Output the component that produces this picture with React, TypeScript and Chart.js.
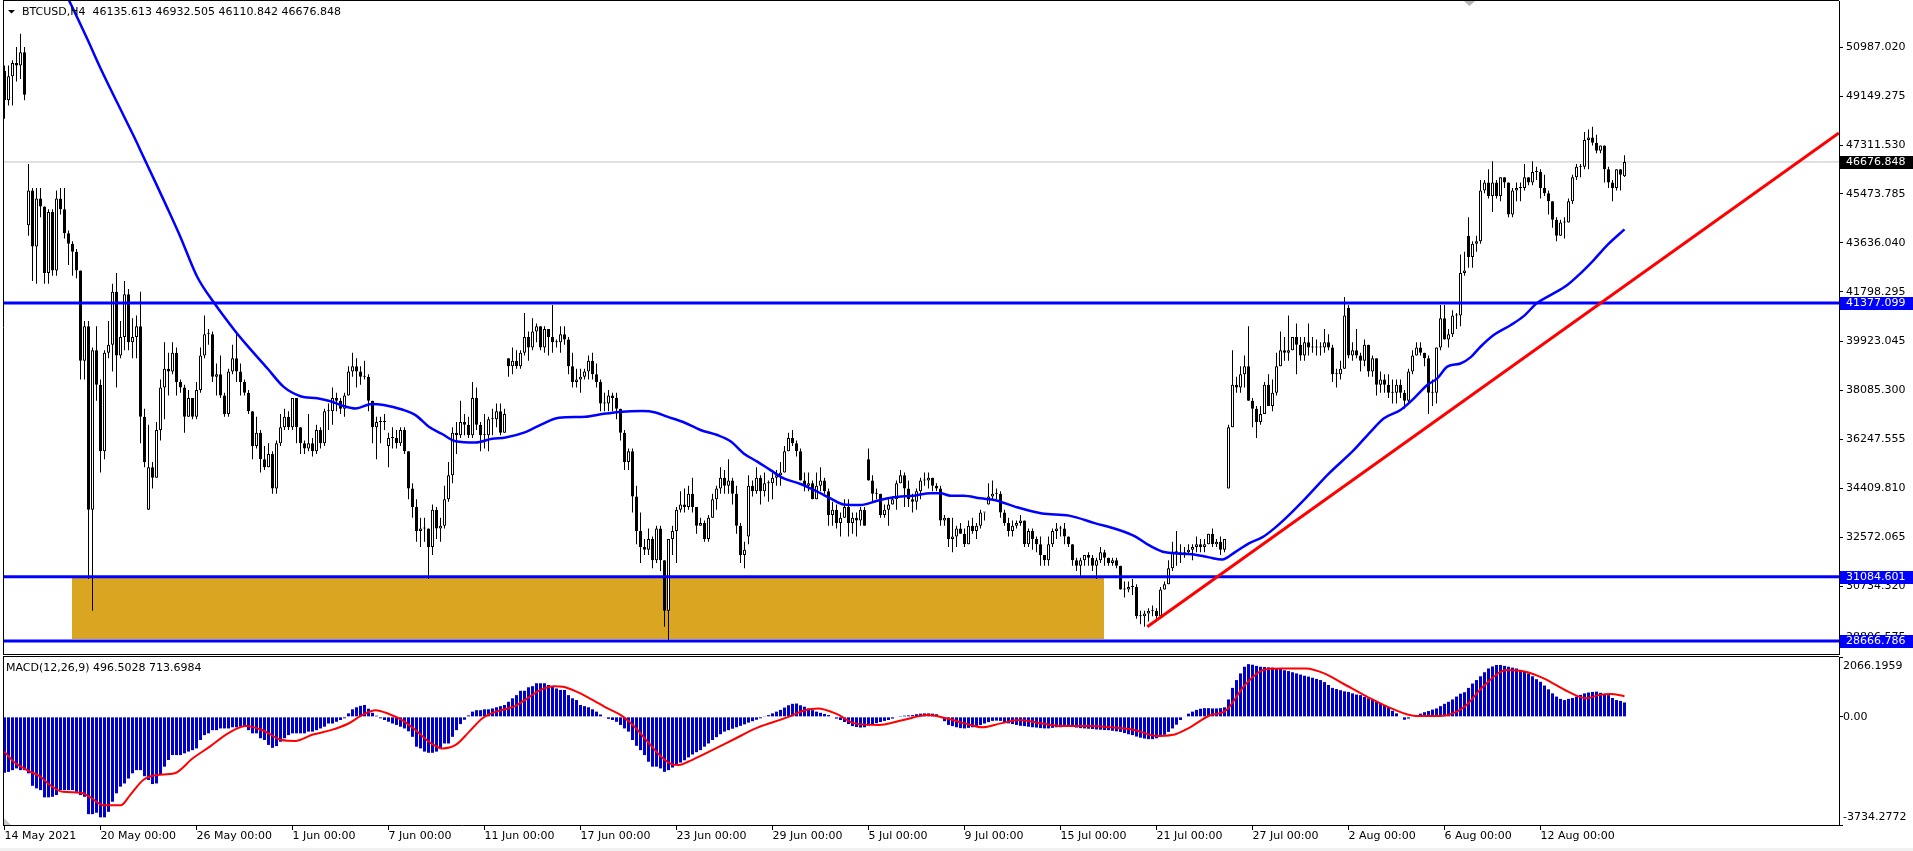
import React, { useEffect, useRef } from 'react';
import { Chart, registerables } from 'chart.js';

Chart.register(...registerables);

// ---------- chart text ----------
const SYMBOL = 'BTCUSD';
const TIMEFRAME = 'H4';
const LAST_OHLC = ['46135.613', '46932.505', '46110.842', '46676.848'];
const MACD_PARAMS = '12,26,9';
const MACD_LAST = 496.5028;
const SIGNAL_LAST = 713.6984;

// ---------- price data (H4 bars, prices in hundreds of USD) ----------
const PRICE_UNIT = 100;

const closes1 = [
  490, 499, 504, 503, 508, 492, 456, 435, 453, 450,
  425, 448, 426, 453, 449, 440, 436, 433, 426, 392,
  405, 336, 396, 383, 358, 395, 398, 418, 394, 401,
  417, 399, 401, 405, 371, 354, 352, 348, 366, 382,
  389, 388, 395, 384, 382, 371, 378, 371, 381, 394,
  402, 402, 386, 387, 379, 372, 388, 393, 388, 384,
  380, 373, 360, 365, 355, 352, 357, 344, 361, 367,
  371, 367, 378, 367, 361, 359, 361, 358, 366, 361,
  373, 373, 378, 377, 374, 379, 388, 390, 388, 386,
  386, 377, 367, 369, 369, 369, 363, 363, 361, 366,
];
const highs1 = [
  503, 503, 505, 510, 515, 510, 466, 457, 457, 457,
  450, 449, 449, 456, 457, 457, 441, 437, 434, 426,
  407, 407, 397, 405, 385, 396, 407, 421, 425, 407,
  422, 419, 408, 409, 418, 374, 368, 354, 369, 385,
  399, 395, 399, 397, 385, 383, 381, 378, 384, 397,
  409, 404, 403, 391, 394, 380, 389, 398, 402, 391,
  385, 381, 373, 371, 366, 360, 361, 358, 362, 372,
  374, 373, 378, 378, 367, 362, 372, 363, 368, 367,
  374, 376, 382, 380, 378, 380, 390, 395, 393, 390,
  392, 387, 377, 371, 371, 372, 365, 367, 366, 367,
];
const lows1 = [
  483, 488, 488, 497, 498, 490, 439, 422, 421, 446,
  421, 421, 424, 424, 447, 438, 428, 424, 423, 385,
  385, 310, 298, 377, 350, 355, 393, 388, 382, 393,
  396, 396, 393, 393, 361, 352, 336, 344, 348, 362,
  370, 379, 387, 379, 380, 365, 371, 370, 370, 380,
  393, 398, 384, 379, 378, 371, 371, 387, 384, 379,
  379, 372, 355, 359, 350, 351, 352, 342, 342, 360,
  366, 366, 366, 361, 357, 357, 358, 356, 357, 359,
  360, 366, 368, 373, 372, 371, 379, 386, 382, 383,
  385, 373, 361, 355, 361, 366, 352, 359, 359, 360,
];

const closes2 = [
  358, 344, 337, 328, 329, 329, 322, 336, 329, 330,
  340, 349, 365, 364, 369, 368, 364, 378, 368, 364,
  364, 370, 370, 373, 365, 372, 390, 392, 390, 395,
  401, 397, 403, 405, 397, 404, 401, 399, 399, 402,
  400, 390, 384, 385, 386, 388, 392, 387, 384, 376,
  376, 379, 378, 374, 365, 354, 358, 341, 328, 322,
  321, 325, 317, 329, 317, 298, 325, 328, 336, 338,
  337, 342, 337, 330, 331, 325, 333, 340, 344, 348,
  345, 347, 342, 330, 319, 321, 345, 343, 348, 343,
  346, 346, 348, 349, 350, 358, 363, 361, 358, 347,
];
const highs2 = [
  367, 358, 346, 340, 333, 333, 329, 338, 337, 333,
  345, 354, 367, 369, 377, 372, 371, 384, 382, 369,
  372, 371, 374, 376, 376, 374, 393, 397, 396, 396,
  410, 403, 408, 406, 405, 405, 404, 413, 400, 405,
  405, 401, 395, 389, 389, 389, 394, 395, 391, 385,
  380, 381, 380, 380, 374, 366, 359, 359, 345, 335,
  325, 329, 326, 330, 330, 317, 325, 330, 337, 343,
  344, 345, 348, 337, 333, 332, 334, 342, 345, 352,
  351, 355, 348, 345, 331, 324, 349, 347, 352, 349,
  350, 347, 350, 351, 354, 360, 365, 366, 362, 359,
];
const lows2 = [
  357, 340, 333, 324, 322, 324, 310, 319, 325, 324,
  329, 339, 346, 357, 363, 364, 363, 363, 366, 358,
  359, 358, 364, 367, 364, 365, 386, 387, 389, 389,
  394, 392, 396, 399, 396, 395, 394, 395, 397, 395,
  398, 387, 382, 382, 380, 385, 385, 385, 382, 373,
  373, 373, 373, 370, 362, 351, 351, 335, 323, 316,
  319, 319, 314, 316, 313, 292, 287, 319, 316, 335,
  335, 336, 335, 327, 330, 324, 324, 333, 336, 342,
  342, 342, 338, 327, 316, 314, 323, 341, 342, 338,
  341, 339, 340, 345, 345, 350, 358, 360, 356, 347,
];

const closes3 = [
  345, 346, 340, 345, 347, 343, 334, 336, 331, 333,
  337, 331, 333, 332, 336, 330, 347, 342, 342, 334,
  336, 338, 340, 346, 349, 344, 340, 339, 343, 347,
  347, 348, 345, 344, 332, 333, 325, 326, 329, 327,
  323, 330, 328, 330, 335, 335, 341, 342, 342, 335,
  331, 328, 330, 331, 332, 323, 328, 325, 323, 319,
  317, 323, 328, 329, 329, 326, 323, 317, 315, 317,
  319, 318, 315, 317, 320, 318, 316, 317, 315, 306,
  306, 307, 307, 296, 296, 297, 298, 298, 296, 306,
  308, 314, 320, 320, 319, 320, 321, 322, 323, 322,
];
const highs3 = [
  350, 350, 347, 350, 352, 348, 344, 339, 338, 335,
  340, 340, 335, 335, 337, 337, 359, 349, 344, 342,
  338, 340, 341, 347, 351, 350, 347, 342, 344, 348,
  350, 350, 348, 346, 345, 334, 333, 333, 330, 331,
  329, 332, 333, 331, 336, 335, 346, 347, 344, 343,
  336, 333, 332, 332, 334, 332, 329, 329, 326, 326,
  319, 326, 329, 331, 330, 331, 326, 323, 318, 318,
  319, 320, 319, 318, 322, 321, 318, 318, 318, 315,
  309, 309, 310, 308, 298, 298, 299, 300, 299, 307,
  309, 317, 324, 328, 323, 322, 323, 323, 326, 325,
];
const lows3 = [
  343, 343, 340, 340, 343, 342, 330, 330, 329, 326,
  333, 326, 327, 326, 330, 330, 347, 339, 340, 333,
  333, 330, 338, 336, 346, 337, 337, 335, 336, 340,
  345, 344, 343, 343, 330, 330, 322, 320, 322, 327,
  322, 323, 327, 325, 329, 332, 338, 340, 340, 333,
  330, 326, 326, 329, 330, 322, 322, 321, 320, 315,
  315, 315, 322, 325, 326, 323, 322, 315, 313, 311,
  315, 315, 313, 310, 316, 315, 315, 315, 314, 306,
  303, 305, 304, 295, 293, 292, 294, 296, 295, 295,
  306, 308, 313, 315, 316, 318, 319, 317, 320, 320,
];

const closes4 = [
  323, 327, 323, 324, 321, 325, 367, 383, 382, 387,
  390, 377, 374, 369, 372, 383, 375, 380, 390, 396,
  395, 396, 401, 398, 394, 399, 397, 397, 397, 397,
  399, 397, 387, 387, 389, 409, 394, 396, 394, 392,
  398, 388, 393, 383, 385, 383, 380, 380, 383, 380,
  377, 388, 394, 397, 395, 393, 380, 380, 397, 408,
  400, 402, 409, 409, 425, 426, 431, 436, 437, 456,
  459, 454, 459, 454, 461, 459, 447, 456, 457, 457,
  461, 459, 463, 463, 457, 455, 452, 445, 439, 444,
  444, 452, 461, 465, 465, 475, 476, 474, 471, 473,
  464, 459, 457, 464, 462, 466.77,
];
const highs4 = [
  325, 327, 329, 325, 326, 325, 368, 396, 386, 390,
  394, 405, 378, 375, 375, 384, 387, 385, 395, 403,
  401, 409, 401, 406, 401, 401, 406, 401, 400, 399,
  404, 402, 398, 389, 392, 416, 413, 399, 404, 395,
  400, 398, 394, 393, 388, 387, 387, 385, 385, 385,
  381, 389, 396, 399, 399, 395, 394, 385, 397, 413,
  413, 404, 411, 410, 432, 433, 446, 437, 439, 460,
  460, 464, 467, 460, 461, 461, 459, 457, 459, 459,
  466, 461, 467, 465, 464, 462, 456, 452, 446, 445,
  446, 453, 462, 466, 466, 478, 479, 480, 477, 473,
  473, 465, 460, 464, 464, 469.33,
];
const lows4 = [
  320, 323, 322, 322, 319, 320, 344, 367, 380, 380,
  382, 377, 367, 363, 368, 372, 375, 373, 379, 390,
  392, 392, 396, 387, 392, 392, 394, 395, 394, 394,
  395, 396, 384, 382, 385, 389, 393, 392, 393, 388,
  390, 386, 386, 379, 380, 380, 378, 376, 376, 378,
  374, 376, 387, 394, 394, 390, 372, 375, 376, 396,
  400, 397, 401, 404, 405, 424, 427, 427, 433, 436,
  455, 453, 448, 453, 452, 457, 446, 446, 452, 452,
  456, 458, 458, 460, 453, 454, 447, 442, 437, 439,
  438, 444, 451, 460, 461, 464, 464, 473, 470, 470,
  459, 457, 452, 456, 456, 461.11,
];

// opening prices after weekend gaps (bar index, open in hundreds); other bars open at the previous close
const gapOpens = [
  [0, 501], [6, 443], [36, 336], [96, 360], [126, 393], [186, 326],
  [216, 355], [246, 338], [306, 344], [336, 412], [366, 439], [405, 461.36],
];

// moving average (bar index, value in hundreds)
const maBars = [
  10, 16.1, 20.7, 24, 28.2, 32.3, 34.8, 37.3, 40.7, 44,
  48.2, 52.3, 57.3, 60.7, 65.7, 69.8, 74, 78.2, 81.5, 85.25,
  87.75, 91.9, 94.8, 99.4, 102.75, 106.1, 109.4, 112.75, 117.75, 121.9,
  125.25, 130.25, 134.4, 138.6, 145.25, 149.4, 154.4, 159.4, 162.75, 165.7,
  169.8, 174, 178.2, 181.5, 184.8, 188.2, 191.5, 194.8, 199, 203.2,
  206.5, 209.8, 214, 218.2, 222.3, 227.3, 231.5, 234, 236.5, 239.8,
  244, 247.75, 252.75, 259.4, 266.1, 272.75, 278.6, 282.75, 286.1, 290.25,
  296.9, 301.1, 304.4, 307.75, 311.1, 314.4, 317.75, 321.1, 325.25, 331,
  337.3, 341.5, 344.8, 349, 352.3, 355.7, 358.2, 360.7, 364, 366.5,
  369, 372.3, 376.5, 379.8, 383.2, 386.5, 390.7, 394, 397.3, 400.7,
  405,
];
const maValues = [
  546, 527.6, 513, 502, 489, 476.5, 468.5, 460.5, 449.5, 438.5,
  423.5, 414, 403.9, 397.7, 389.2, 382.2, 378.7, 377.9, 376.8, 374.8,
  374.1, 375.8, 375.4, 373.7, 371.6, 367.2, 364.5, 361.8, 361.3, 362.7,
  363.2, 365.2, 368.2, 370.6, 371, 372, 372.9, 373.1, 372.6, 371,
  368.9, 366, 364.1, 361.8, 357.2, 354.1, 350.9, 347.8, 345.7, 342.8,
  340.3, 338, 337.8, 339.4, 340.7, 341.3, 342.2, 342.2, 341.3, 341.3,
  340.3, 339.6, 337.1, 334.6, 333.8, 330.9, 328.4, 325.9, 322.7, 320,
  319.3, 318.1, 317.3, 320.2, 323.4, 325.6, 329.4, 334, 340.3, 349.5,
  358.4, 365.3, 370.3, 373.5, 377.8, 382.9, 385.4, 389.8, 391, 393.3,
  397.3, 401.7, 405.4, 408.8, 413.8, 416.7, 420.5, 424.9, 429.9, 435.5,
  441.4,
];

// drawn objects
const levelLines = [41377.099, 31084.601, 28666.786];
const LAST_PRICE = 46676.848;
const ZONE_FROM_BAR = 16.9;
const ZONE_TO_BAR = 274.9;
const ZONE_TOP = 31084.601;
const ZONE_BOTTOM = 28750;
const trendBars = [285.7, 458.6];
const trendValues = [29203, 47765];

// axes
const X_MIN = -0.375;
const X_MAX = 458.625;
const Y_MIN = 28178;
const Y_MAX = 52728;
const priceTicks = [
  50987.02, 49149.275, 47311.53, 45473.785, 43636.04, 41798.295, 39923.045,
  38085.3, 36247.555, 34409.81, 32572.065, 30734.32, 28806.575,
];
const timeTickBars = [0, 24, 48, 72, 96, 120, 144, 168, 192, 216, 240, 264, 288, 312, 336, 360, 384];
const timeLabels = [
  '14 May 2021', '20 May 00:00', '26 May 00:00', '1 Jun 00:00', '7 Jun 00:00', '11 Jun 00:00',
  '17 Jun 00:00', '23 Jun 00:00', '29 Jun 00:00', '5 Jul 00:00', '9 Jul 00:00', '15 Jul 00:00',
  '21 Jul 00:00', '27 Jul 00:00', '2 Aug 00:00', '6 Aug 00:00', '12 Aug 00:00',
];

// ---------- MACD ----------
const MACD_MIN = -3734.2772;
const MACD_MAX = 2066.1959;

const hist1 = [
  -1930, -1900, -1840, -1780, -1840, -1840, -1950, -2380, -2470, -2530,
  -2780, -2780, -2760, -2700, -2530, -2530, -2530, -2530, -2590, -2700,
  -2760, -3360, -3360, -3310, -3470, -3470, -3280, -2930, -2640, -2410,
  -2300, -2130, -1950, -1840, -1840, -2050, -2180, -2320, -2300, -2010,
  -1720, -1490, -1320, -1320, -1320, -1260, -1200, -1150, -1090, -800,
  -630, -570, -460, -460, -400, -400, -400, -360, -360, -340,
  -340, -460, -570, -570, -740, -800, -970, -1070, -1010, -860,
  -740, -630, -570, -570, -570, -570, -510, -510, -460, -400,
  -340, -230, -230, -170, -110, -50, 120, 260, 330, 380,
  410, 280, 140, 40, -50, -110, -170, -230, -280, -340,
];
const hist2 = [
  -400, -500, -690, -1030, -1090, -1200, -1240, -1240, -1200, -1090,
  -920, -920, -690, -460, -250, -100, 50, 180, 230, 230,
  260, 260, 290, 330, 370, 410, 520, 640, 750, 900,
  900, 1020, 1060, 1160, 1160, 1160, 1100, 1040, 980, 930,
  930, 750, 640, 580, 410, 370, 330, 260, 180, 80,
  -20, -70, -110, -170, -280, -400, -510, -800, -1000, -1150,
  -1320, -1550, -1720, -1720, -1780, -1900, -1840, -1750, -1650, -1580,
  -1500, -1400, -1300, -1220, -1150, -1030, -920, -800, -700, -600,
  -510, -460, -410, -360, -310, -260, -200, -150, -100, -50,
  10, 60, 120, 180, 240, 320, 400, 450, 460, 400,
];
const hist3 = [
  350, 290, 230, 180, 140, 100, 60, 0, -60, -110,
  -180, -250, -320, -350, -370, -360, -300, -260, -220, -180,
  -140, -110, -60, -20, 30, 40, 50, 60, 90, 110,
  120, 120, 110, 90, 0, -150, -280, -320, -360, -390,
  -400, -380, -360, -330, -280, -230, -180, -140, -130, -140,
  -180, -225, -250, -280, -310, -320, -340, -360, -370, -390,
  -400, -400, -380, -360, -360, -350, -340, -345, -370, -390,
  -400, -410, -420, -435, -445, -455, -460, -480, -500, -520,
  -560, -600, -630, -680, -720, -750, -770, -770, -740, -680,
  -620, -520, -400, -270, -110, 20, 110, 180, 240, 280,
];
const hist4 = [
  300, 300, 290, 290, 300, 330, 600, 1000, 1270, 1500,
  1730, 1820, 1800, 1760, 1730, 1720, 1710, 1700, 1680, 1650,
  1610, 1580, 1540, 1500, 1460, 1420, 1390, 1350, 1310, 1270,
  1200, 1100, 1000, 960, 920, 880, 860, 810, 770, 750,
  690, 640, 580, 520, 460, 410, 310, 210, 120, 20,
  -100, -60, 0, 60, 110, 160, 200, 250, 290, 370,
  450, 520, 600, 700, 800, 850, 1000, 1150, 1270, 1400,
  1540, 1670, 1740, 1790, 1790, 1760, 1730, 1700, 1670, 1620,
  1560, 1500, 1400, 1300, 1210, 1080, 950, 810, 700, 620,
  580, 620, 650, 700, 760, 810, 840, 860, 870, 830,
  770, 750, 650, 580, 550, 496.5,
];

const signalBars = [
  0, 2.3, 5.7, 9, 11.3, 14.6, 19.1, 21.3, 24.7, 29.1,
  31.4, 34.7, 38, 42.5, 47, 51.5, 55.9, 60.4, 64.8, 69.3,
  72.7, 77.1, 81.6, 86, 89.4, 92.75, 96.1, 99.4, 102.8, 106.1,
  109.5, 112.8, 116.2, 119.5, 122.9, 127.3, 130.7, 134, 137.4, 139.6,
  143, 146.3, 150.8, 154.1, 157.5, 160.8, 164.2, 166.4, 168.6, 170.9,
  174.4, 182, 188.1, 195.7, 200.3, 203.4, 208, 212.5, 218.6, 224.7,
  230.8, 235.4, 240, 244.5, 249.1, 253.7, 258.3, 264.4, 270.5, 276.6,
  282.7, 288.1, 291.8, 296.4, 301, 305.5, 310.1, 314.7, 319.3, 325.4,
  329.9, 334.5, 340.6, 346.7, 352.8, 358.9, 365, 369.6, 375.7, 380.3,
  384.8, 390.9, 395.5, 398.5, 401.6, 405,
];
const signalValues = [
  -1200, -1550, -1840, -2070, -2350, -2590, -2620, -2760, -3050, -3050,
  -2700, -2180, -2010, -1950, -1440, -1010, -570, -320, -480, -800,
  -830, -610, -460, -230, 60, 230, 100, -110, -460, -860,
  -1090, -970, -510, -50, 180, 350, 640, 930, 1060, 1040,
  870, 640, 290, 60, -340, -860, -1380, -1610, -1665, -1550,
  -1320, -800, -380, -20, 235, 290, 100, -225, -280, -110,
  60, -50, -225, -360, -225, -110, -200, -320, -320, -360,
  -460, -660, -630, -360, 30, 235, 1100, 1620, 1670, 1670,
  1500, 1160, 700, 290, 30, 30, 350, 1040, 1620, 1560,
  1330, 870, 640, 750, 790, 713.7,
];

// ---------- build series ----------
const FONT = { family: 'DejaVu Sans', size: 11 };
const CSS_FONT = '11px "DejaVu Sans"';

function buildCandles() {
  const closes = [...closes1, ...closes2, ...closes3, ...closes4].map((v) => v * PRICE_UNIT);
  const highs = [...highs1, ...highs2, ...highs3, ...highs4].map((v) => v * PRICE_UNIT);
  const lows = [...lows1, ...lows2, ...lows3, ...lows4].map((v) => v * PRICE_UNIT);
  const gaps = new Map(gapOpens.map(([i, v]) => [i, v * PRICE_UNIT]));
  const bodies: any[] = [];
  const wicks: any[] = [];
  const colors: string[] = [];
  for (let i = 0; i < closes.length; i++) {
    const o = gaps.has(i) ? (gaps.get(i) as number) : closes[i - 1];
    const c = closes[i];
    const h = Math.max(highs[i], o, c);
    const l = Math.min(lows[i], o, c);
    bodies.push({ x: i, y: [o, c] });
    wicks.push({ x: i, y: [l, h] });
    colors.push(c > o ? '#ffffff' : '#000000');
  }
  return { bodies, wicks, colors };
}

const mainDecor = {
  id: 'mainDecor',
  beforeDatasetsDraw(chart: any) {
    const { ctx, scales } = chart;
    const x1 = scales.x.getPixelForValue(ZONE_FROM_BAR);
    const x2 = scales.x.getPixelForValue(ZONE_TO_BAR);
    const y1 = scales.y.getPixelForValue(ZONE_TOP);
    const y2 = scales.y.getPixelForValue(ZONE_BOTTOM);
    ctx.save();
    ctx.fillStyle = '#daa520';
    ctx.fillRect(Math.round(x1), Math.round(y1), Math.round(x2 - x1), Math.round(y2 - y1));
    ctx.restore();
  },
  afterDraw(chart: any) {
    const { ctx, chartArea: a, scales } = chart;
    const ys = scales.y;
    const W = chart.width;
    ctx.save();
    ctx.strokeStyle = '#000';
    ctx.lineWidth = 1;
    ctx.beginPath();
    ctx.moveTo(3.5, 0);
    ctx.lineTo(3.5, a.bottom + 1);
    ctx.moveTo(3, 0.5);
    ctx.lineTo(a.right, 0.5);
    ctx.moveTo(3, a.bottom + 0.5);
    ctx.lineTo(a.right, a.bottom + 0.5);
    ctx.stroke();

    ctx.font = CSS_FONT;
    ctx.textBaseline = 'middle';
    ctx.textAlign = 'left';
    const tag = (v: number, bg: string) => {
      const py = Math.round(ys.getPixelForValue(v));
      ctx.fillStyle = bg;
      ctx.fillRect(a.right + 1, py - 6, W - a.right - 1, 13);
      ctx.fillStyle = '#ffffff';
      ctx.fillText(v.toFixed(3), a.right + 7, py + 0.5);
    };
    tag(LAST_PRICE, '#000000');
    levelLines.forEach((v) => tag(v, '#0000ff'));

    // header
    ctx.fillStyle = '#000';
    ctx.beginPath();
    ctx.moveTo(8, 10);
    ctx.lineTo(15, 10);
    ctx.lineTo(11.5, 13.5);
    ctx.closePath();
    ctx.fill();
    ctx.fillText(`${SYMBOL},${TIMEFRAME}  ${LAST_OHLC.join(' ')}`, 22, 12.5);

    // chart shift marker
    ctx.fillStyle = '#b4b4b4';
    ctx.beginPath();
    ctx.moveTo(1464, 1);
    ctx.lineTo(1475, 1);
    ctx.lineTo(1469.5, 6);
    ctx.closePath();
    ctx.fill();
    ctx.restore();
  },
};

const macdDecor = {
  id: 'macdDecor',
  afterDraw(chart: any) {
    const { ctx, chartArea: a } = chart;
    const W = chart.width;
    ctx.save();
    ctx.strokeStyle = '#000';
    ctx.lineWidth = 1;
    ctx.beginPath();
    ctx.moveTo(3.5, a.top - 1);
    ctx.lineTo(3.5, a.bottom);
    ctx.moveTo(3, a.top - 0.5);
    ctx.lineTo(a.right, a.top - 0.5);
    ctx.stroke();

    ctx.font = CSS_FONT;
    ctx.textBaseline = 'middle';
    ctx.textAlign = 'left';
    ctx.fillStyle = '#000';
    ctx.fillText(MACD_MAX.toFixed(4), a.right + 4, a.top + 9);
    ctx.fillText(MACD_MIN.toFixed(4), a.right + 4, a.bottom - 8);
    ctx.fillText(`MACD(${MACD_PARAMS}) ${MACD_LAST.toFixed(4)} ${SIGNAL_LAST.toFixed(4)}`, 6, 13);

    ctx.fillStyle = '#c8c8c8';
    ctx.beginPath();
    ctx.moveTo(4, a.bottom - 7);
    ctx.lineTo(4, a.bottom);
    ctx.lineTo(11, a.bottom);
    ctx.closePath();
    ctx.fill();

    ctx.fillStyle = '#f0f0f0';
    ctx.fillRect(0, chart.height - 3, W, 3);
    ctx.restore();
  },
};

function mainConfig(): any {
  const { bodies, wicks, colors } = buildCandles();
  const maPts = maBars.map((b, i) => ({ x: b, y: maValues[i] * PRICE_UNIT }));
  const trendPts = trendBars.map((b, i) => ({ x: b, y: trendValues[i] }));
  const lineBase = { type: 'line', pointRadius: 0, fill: false };
  return {
    type: 'bar',
    data: {
      datasets: [
        { ...lineBase, data: trendPts, borderColor: '#ff0000', borderWidth: 3, order: 0 },
        { ...lineBase, data: maPts, borderColor: '#0000ff', borderWidth: 2.5, cubicInterpolationMode: 'monotone', order: 1 },
        ...levelLines.map((v) => ({
          ...lineBase,
          data: [{ x: X_MIN, y: v }, { x: X_MAX, y: v }],
          borderColor: '#0000ff',
          borderWidth: 3,
          order: 1,
        })),
        {
          type: 'bar',
          data: bodies,
          backgroundColor: colors,
          borderColor: '#000000',
          borderWidth: 1,
          borderSkipped: false,
          barThickness: 3,
          grouped: false,
          minBarLength: 1,
          inflateAmount: 0,
          order: 2,
        },
        {
          type: 'bar',
          data: wicks,
          backgroundColor: '#000000',
          borderWidth: 0,
          barThickness: 1,
          grouped: false,
          minBarLength: 1,
          inflateAmount: 0,
          order: 3,
        },
        {
          ...lineBase,
          data: [{ x: X_MIN, y: LAST_PRICE }, { x: X_MAX, y: LAST_PRICE }],
          borderColor: '#c0c0c0',
          borderWidth: 1,
          order: 5,
        },
      ],
    },
    options: {
      animation: false,
      responsive: false,
      devicePixelRatio: 1,
      events: [],
      layout: { padding: { left: 3, top: 1, right: 0, bottom: 1 } },
      plugins: { legend: { display: false }, tooltip: { enabled: false } },
      scales: {
        x: { type: 'linear', min: X_MIN, max: X_MAX, offset: false, display: false },
        y: {
          type: 'linear',
          position: 'right',
          min: Y_MIN,
          max: Y_MAX,
          afterBuildTicks: (s: any) => {
            s.ticks = priceTicks.map((v) => ({ value: v }));
          },
          afterFit: (s: any) => {
            s.width = 74;
            s.paddingTop = 0;
            s.paddingBottom = 0;
          },
          ticks: {
            autoSkip: false,
            padding: 3,
            color: '#000',
            font: FONT,
            callback: (v: any) => Number(v).toFixed(3),
          },
          grid: { drawOnChartArea: false, drawTicks: true, tickLength: 4, color: '#000' },
          border: { display: true, color: '#000' },
        },
      },
    },
    plugins: [mainDecor],
  };
}

function macdConfig(): any {
  const hist = [...hist1, ...hist2, ...hist3, ...hist4].map((v, i) => ({ x: i, y: v }));
  const sig = signalBars.map((b, i) => ({ x: b, y: signalValues[i] }));
  return {
    type: 'bar',
    data: {
      datasets: [
        {
          type: 'line',
          data: sig,
          borderColor: '#ff0000',
          borderWidth: 2,
          pointRadius: 0,
          fill: false,
          cubicInterpolationMode: 'monotone',
          order: 0,
        },
        {
          type: 'bar',
          data: hist,
          backgroundColor: '#0000cd',
          borderWidth: 0,
          barThickness: 3,
          grouped: false,
          inflateAmount: 0,
          order: 1,
        },
      ],
    },
    options: {
      animation: false,
      responsive: false,
      devicePixelRatio: 1,
      events: [],
      layout: { padding: { left: 3, top: 2, right: 0, bottom: 0 } },
      plugins: { legend: { display: false }, tooltip: { enabled: false } },
      scales: {
        x: {
          type: 'linear',
          position: 'bottom',
          min: X_MIN,
          max: X_MAX,
          offset: false,
          afterBuildTicks: (s: any) => {
            s.ticks = timeTickBars.map((v) => ({ value: v }));
          },
          afterFit: (s: any) => {
            s.height = 26;
            s.paddingLeft = 0;
            s.paddingRight = 0;
          },
          ticks: {
            autoSkip: false,
            maxRotation: 0,
            minRotation: 0,
            align: 'start',
            padding: 0,
            color: '#000',
            font: FONT,
            callback: (_v: any, i: number) => timeLabels[i],
          },
          grid: { drawOnChartArea: false, drawTicks: true, tickLength: 5, color: '#000', offset: false },
          border: { display: true, color: '#000' },
        },
        y: {
          type: 'linear',
          position: 'right',
          min: MACD_MIN,
          max: MACD_MAX,
          afterBuildTicks: (s: any) => {
            s.ticks = [MACD_MIN, 0, MACD_MAX].map((v) => ({ value: v }));
          },
          afterFit: (s: any) => {
            s.width = 74;
            s.paddingTop = 0;
            s.paddingBottom = 0;
          },
          ticks: {
            autoSkip: false,
            padding: 0,
            color: '#000',
            font: FONT,
            callback: (v: any) => (Number(v) === 0 ? '0.00' : ''),
          },
          grid: { drawOnChartArea: false, drawTicks: true, tickLength: 4, color: '#000' },
          border: { display: true, color: '#000' },
        },
      },
    },
    plugins: [macdDecor],
  };
}

export default function App() {
  const mainRef = useRef<HTMLCanvasElement>(null);
  const macdRef = useRef<HTMLCanvasElement>(null);

  useEffect(() => {
    document.body.style.margin = '0';
    const c1 = new Chart(mainRef.current as HTMLCanvasElement, mainConfig());
    const c2 = new Chart(macdRef.current as HTMLCanvasElement, macdConfig());
    return () => {
      c1.destroy();
      c2.destroy();
    };
  }, []);

  return (
    <div
      style={{
        position: 'absolute',
        left: 0,
        top: 0,
        width: 1913,
        height: 851,
        background: '#ffffff',
        overflow: 'hidden',
      }}
    >
      <canvas ref={mainRef} width={1913} height={655} style={{ position: 'absolute', left: 0, top: 0 }} />
      <canvas ref={macdRef} width={1913} height={196} style={{ position: 'absolute', left: 0, top: 655 }} />
    </div>
  );
}
